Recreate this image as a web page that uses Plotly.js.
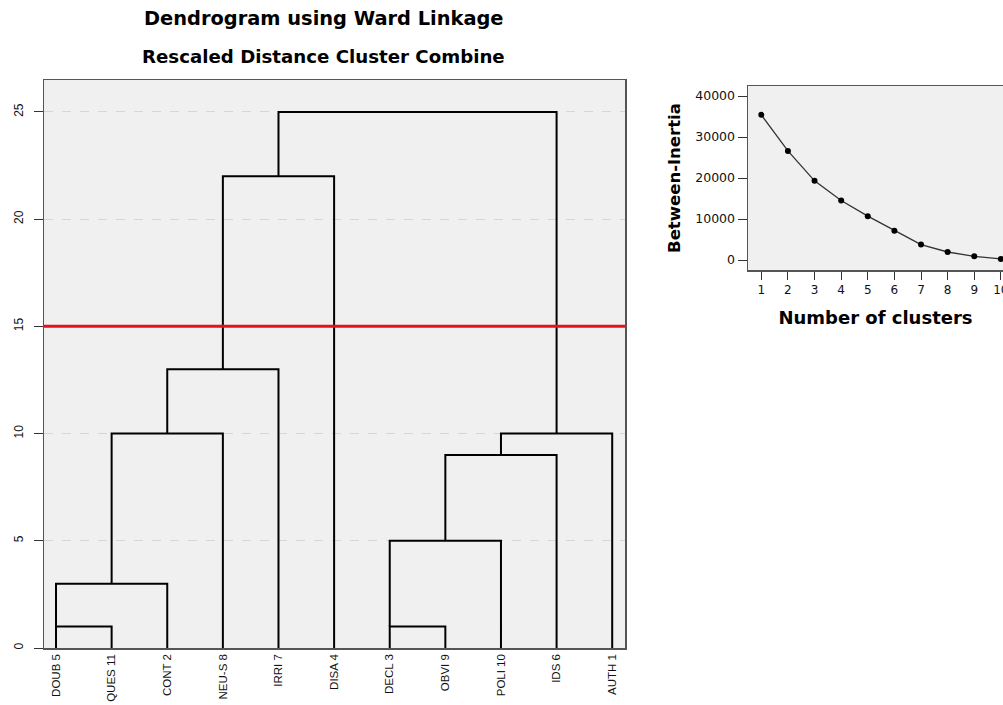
<!DOCTYPE html>
<html>
<head>
<meta charset="utf-8">
<script src="https://cdn.plot.ly/plotly-3.0.1.min.js"></script>
<style>html,body{margin:0;padding:0;background:#fff;}#chart{width:1003px;height:705px;}</style>
</head>
<body>
<div id="chart"></div>
<script>
// Leaves in display order
const leafLabels = ["DOUB 5","QUES 11","CONT 2","NEU-S 8","IRRI 7","DISA 4","DECL 3","OBVI 9","POLI 10","IDS 6","AUTH 1"];
// Merges: child ids (leaves 0..10, clusters 11+) and rescaled distance
const mergeLeft   = [0, 11, 12, 13, 14, 6, 16, 17, 18, 15];
const mergeRight  = [1, 2,  3,  4,  5,  7, 8,  9,  10, 19];
const mergeHeight = [1, 3,  10, 13, 22, 1, 5,  9,  10, 25];
const cutHeight = 15;
const distTicks = [0, 5, 10, 15, 20, 25];

// Elbow / between-inertia inset
const nClusters = [1,2,3,4,5,6,7,8,9,10];
const betweenInertia = [35400, 26600, 19300, 14500, 10700, 7150, 3750, 1950, 900, 250];
const inertiaTicks = [0, 10000, 20000, 30000, 40000];

// Build dendrogram path from the linkage
const pos = leafLabels.map((_, i) => i);
const hgt = leafLabels.map(() => 0);
const isLeaf = leafLabels.map(() => true);
const dx = [], dy = [];
for (let k = 0; k < mergeHeight.length; k++) {
  const a = mergeLeft[k], b = mergeRight[k], h = mergeHeight[k];
  dx.push(pos[a], pos[a], pos[b], pos[b], null);
  dy.push(hgt[a], h, h, hgt[b], null);
  const np = (isLeaf[a] && isLeaf[b]) ? Math.min(pos[a], pos[b]) : (pos[a] + pos[b]) / 2;
  pos.push(np); hgt.push(h); isLeaf.push(false);
}

const W = 1003, H = 705;
const fontFam = "Liberation Sans, Arial, sans-serif";
const wideFam = "DejaVu Sans, Verdana, sans-serif";

const traces = [
  {x: dx, y: dy, mode: "lines", type: "scatter", line: {color: "#000", width: 2}, hoverinfo: "skip", showlegend: false, xaxis: "x", yaxis: "y", connectgaps: false},
  {x: nClusters, y: betweenInertia, mode: "lines+markers", type: "scatter", line: {color: "#333", width: 1.3}, marker: {color: "#000", size: 6}, showlegend: false, xaxis: "x2", yaxis: "y2", cliponaxis: false}
];

const layout = {
  width: W, height: H,
  margin: {l: 0, r: 0, t: 0, b: 0},
  paper_bgcolor: "#fff",
  plot_bgcolor: "#f0f0f0",
  font: {family: fontFam, color: "#000"},
  showlegend: false,
  xaxis: {
    domain: [44 / W, 625 / W],
    range: [-0.216, 10.23],
    tickmode: "array",
    tickvals: leafLabels.map((_, i) => i),
    ticktext: leafLabels,
    tickangle: -90,
    tickfont: {size: 11.5, color: "#111"},
    ticks: "", showgrid: false, zeroline: false,
    showline: true, mirror: true, linecolor: "#555", linewidth: 1.5,
    fixedrange: true
  },
  yaxis: {
    domain: [1 - 648 / H, 1 - 80 / H],
    range: [0, 26.49],
    tickmode: "array",
    tickvals: distTicks,
    ticktext: distTicks.map(String),
    tickangle: -90,
    tickfont: {size: 12, color: "#111"},
    ticks: "outside", ticklen: 9, tickcolor: "#333",
    ticklabelstandoff: 6,
    showgrid: true, gridcolor: "#d6d6d6", griddash: "dash", gridwidth: 1,
    zeroline: false,
    showline: true, mirror: true, linecolor: "#555", linewidth: 1.5,
    fixedrange: true
  },
  xaxis2: {
    domain: [748 / W, 1],
    range: [0.5, 10.08],
    anchor: "y2",
    tickmode: "array",
    tickvals: nClusters,
    ticktext: nClusters.map(String),
    ticklabeloverflow: "allow",
    tickfont: {family: wideFam, size: 12, color: "#111"},
    ticks: "outside", ticklen: 8, tickcolor: "#333",
    showgrid: false, zeroline: false,
    showline: true, mirror: true, linecolor: "#555", linewidth: 1.5,
    title: {text: "<b>Number of clusters</b>", font: {family: wideFam, size: 18, color: "#000"}, standoff: 15},
    fixedrange: true
  },
  yaxis2: {
    domain: [1 - 270 / H, 1 - 86 / H],
    range: [-2440, 42440],
    anchor: "x2",
    tickmode: "array",
    tickvals: inertiaTicks,
    ticktext: inertiaTicks.map(String),
    tickfont: {family: wideFam, size: 12.5, color: "#111"},
    ticks: "outside", ticklen: 9, tickcolor: "#333",
    showgrid: false, zeroline: false,
    showline: true, mirror: false, linecolor: "#555", linewidth: 1.5,
    title: {text: "<b>Between-Inertia</b>", font: {family: wideFam, size: 16.5, color: "#000"}, standoff: 10},
    fixedrange: true
  },
  shapes: [
    {type: "line", xref: "x domain", yref: "y", x0: 0, x1: 1, y0: cutHeight, y1: cutHeight, line: {color: "#e8101a", width: 3}}
  ],
  annotations: [
    {text: "<b>Dendrogram using Ward Linkage</b>", xref: "paper", yref: "paper", x: 324 / W, y: 1 - 18 / H, showarrow: false, font: {family: wideFam, size: 19.4, color: "#000"}, xanchor: "center", yanchor: "middle"},
    {text: "<b>Rescaled Distance Cluster Combine</b>", xref: "paper", yref: "paper", x: 323 / W, y: 1 - 56 / H, showarrow: false, font: {family: wideFam, size: 18.2, color: "#000"}, xanchor: "center", yanchor: "middle"}
  ]
};

Plotly.newPlot("chart", traces, layout, {displayModeBar: false, staticPlot: true});
</script>
</body>
</html>
